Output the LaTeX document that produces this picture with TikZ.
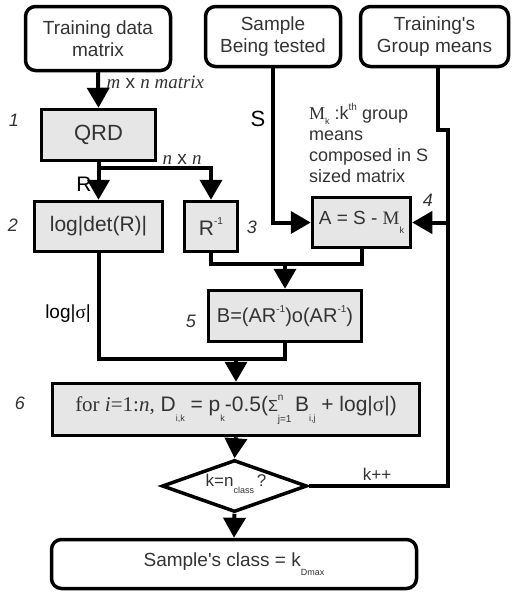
\documentclass[tikz,border=0pt]{standalone}
\usepackage{fontspec}
\setmainfont{Liberation Sans}
\newfontfamily\serifrm{Liberation Serif}
\usetikzlibrary{arrows.meta,shapes.geometric}
\definecolor{ink}{HTML}{333333}
\definecolor{boxfill}{HTML}{E6E6E6}
% small lowered / raised indices in the box texts
\newcommand{\lowidx}[1]{\raisebox{-0.45em}{\fontsize{9}{9}\selectfont #1}}
\newcommand{\highidx}[1]{\raisebox{0.5em}{\fontsize{10}{10}\selectfont #1}}
\newcommand{\sumlimits}[2]{\makebox[0pt][l]{\raisebox{0.55em}{\fontsize{10}{10}\selectfont #1}}\raisebox{-0.5em}{\fontsize{10}{10}\selectfont #2}}

\begin{document}
\begin{tikzpicture}[x=1pt,y=-1pt,
  term/.style={draw, rounded corners=10pt, line width=3.5pt, fill=white, text=ink,
    align=center, font=\fontsize{19}{22}\selectfont, inner sep=0pt},
  proc/.style={draw, line width=3.5pt, fill=boxfill, text=ink, inner sep=0pt,
    font=\fontsize{19}{22}\selectfont},
  conn/.style={line width=4pt},
  arr/.style={conn, -{Triangle[length=20pt,width=22pt]}},
  stepnum/.style={font=\fontsize{18}{18}\selectfont\itshape, text=ink},
  lbl/.style={font=\fontsize{19}{19}\selectfont, text=black}]
\useasboundingbox (0,0) rectangle (513,592);

% inputs
\node[term, minimum width=145, minimum height=64] (train) at (98,38.5) {Training data\\matrix};
\node[term, minimum width=135, minimum height=60] (sample) at (273,36.5) {Sample\\Being tested};
\node[term, minimum width=148, minimum height=60] (groups) at (434.5,36.5) {Training\textquotesingle s\\Group means};

% processing steps
\node[proc, minimum width=114, minimum height=51, font=\fontsize{22}{22}\selectfont] (qrd) at (98.5,135) {QRD};
\node[proc, minimum width=128, minimum height=50, font=\fontsize{21}{21}\selectfont] (logdet) at (98.5,226.5) {log|det(R)|};
\node[proc, minimum width=53, minimum height=50, font=\fontsize{21}{21}\selectfont] (rinv) at (211,226.5) {R\highidx{-1}};
\node[proc, minimum width=98, minimum height=50] (abox) at (361.5,222.5) {A = S - {\serifrm M}\lowidx{k}};
\node[proc, minimum width=153, minimum height=51, font=\fontsize{20}{20}\selectfont] (bbox) at (285,316) {B=(AR\highidx{-1})o(AR\highidx{-1})};
\node[proc, minimum width=367, minimum height=52, font=\fontsize{21}{21}\selectfont] (forbox) at (236,409.5)
  {{\serifrm for \textit{i}=1:\textit{n},} D\lowidx{i,k} = p\lowidx{k}-0.5({\fontsize{16}{16}\selectfont Σ}\sumlimits{n}{j=1}\,B\lowidx{i,j} + log|{\serifrm σ}|)};

% decision and result
\node[draw, diamond, line width=3.5pt, fill=white, minimum width=145, minimum height=52, inner sep=0pt] (dec) at (234.5,486) {};
\node[text=ink, font=\fontsize{17}{17}\selectfont] (dectext) at (236,484) {k=n\lowidx{class}\,?};
\node[term, minimum width=365, minimum height=49] (final) at (234,564) {Sample\textquotesingle s class = k\lowidx{Dmax}};

% junction points
\coordinate (rsplit) at (100,168);
\coordinate (join1) at (285,264);
\coordinate (join2) at (236,359);
\coordinate (gdrop) at (438,130);
\coordinate (gjoin) at (448,130);
\coordinate (loopc) at (448,486);

% connectors
\draw[arr] (train.south) -- (qrd.north);
\draw[arr] (qrd.south) -- (logdet.north);
\draw[arr] (rsplit) -| (rinv.north);
\draw[arr] (sample.south) |- (abox.west);
\draw[conn] (groups.south -| gdrop) -- (gdrop) -- (gjoin) -- (gjoin |- abox.east);
\draw[arr] (dec.east) -- (loopc) |- (abox.east);
\draw[conn] (rinv.south) |- (join1) -| (abox.south);
\draw[arr] (join1) -- (bbox.north);
\draw[conn] (logdet.south) |- (join2) -| (bbox.south);
\draw[arr] (join2) -- (forbox.north);
\draw[arr] (forbox.south) -- (dec.north);
\draw[arr] (dec.south) -- (final.north);

% edge labels
\node[lbl, anchor=west, text=ink] (lmn) at (103,82) {{\serifrm\itshape m} x {\serifrm\itshape n matrix}};
\node[lbl, anchor=west, text=ink] (lnn) at (159,159) {{\serifrm\itshape n} x {\serifrm\itshape n}};
\node[lbl, font=\fontsize{21}{21}\selectfont] (lr) at (84,184) {R};
\node[lbl, font=\fontsize{22}{22}\selectfont] (ls) at (258,119) {S};
\node[lbl] (lsig) at (68,314) {log|{\serifrm σ}|};
\node[lbl, font=\fontsize{17}{17}\selectfont, text=ink] (lkpp) at (377,474) {k++};
\node[anchor=north west, align=left, text=ink, font=\fontsize{18}{21}\selectfont, inner sep=0pt] (mnote) at (309,103)
  {{\serifrm M}\raisebox{-0.3em}{\fontsize{9}{9}\selectfont k} :k\highidx{th} group\\means\\composed in S\\sized matrix};

% step numbers
\node[stepnum] (n1) at (14,120) {1};
\node[stepnum] (n2) at (13,225) {2};
\node[stepnum] (n3) at (252,227) {3};
\node[stepnum] (n4) at (428,200) {4};
\node[stepnum] (n5) at (191,321) {5};
\node[stepnum] (n6) at (20,403) {6};
\end{tikzpicture}
\end{document}
